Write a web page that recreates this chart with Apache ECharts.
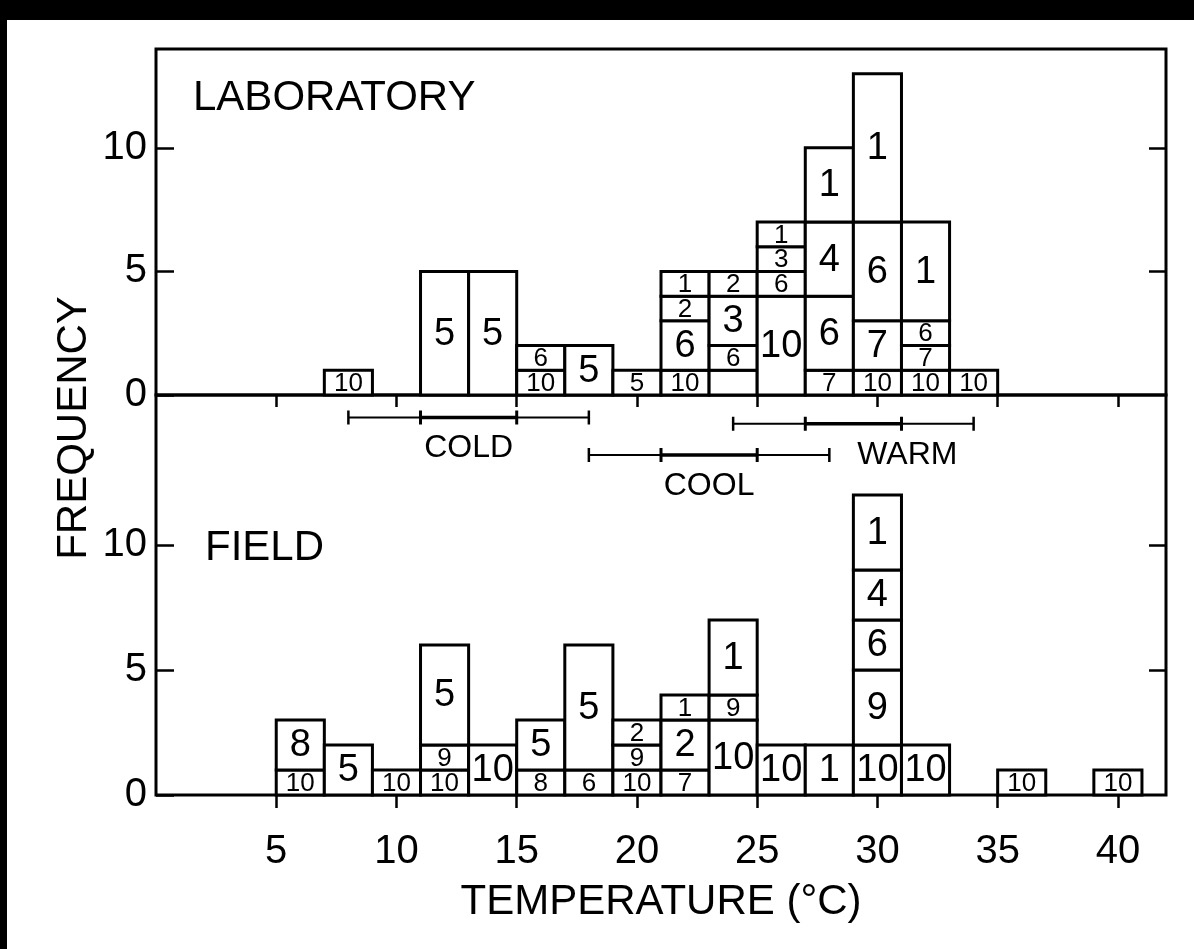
<!DOCTYPE html>
<html>
<head>
<meta charset="utf-8">
<script src="https://cdn.jsdelivr.net/npm/echarts@6/dist/echarts.min.js"></script>
<style>
  html, body { margin: 0; padding: 0; background: #fff; }
  #chart { width: 1194px; height: 949px; }
</style>
</head>
<body>
<div id="chart"></div>
<script>
// 2 degree bins, given by their lower edge; stacked groups listed bottom -> top
const binWidth = 2;

const labBinStart = [7, 11, 13, 15, 17, 19, 21, 23, 25, 27, 29, 31, 33];
const labCounts = [[1], [5], [5], [1, 1], [2], [1], [1, 2, 1, 1], [1, 1, 2, 1], [4, 1, 1, 1], [1, 3, 3, 3], [1, 2, 4, 6], [1, 1, 1, 4], [1]];
const labCodes = [['10'], ['5'], ['5'], ['10', '6'], ['5'], ['5'], ['10', '6', '2', '1'], ['', '6', '3', '2'], ['10', '6', '3', '1'], ['7', '6', '4', '1'], ['10', '7', '6', '1'], ['10', '7', '6', '1'], ['10']];

const fieldBinStart = [5, 7, 9, 11, 13, 15, 17, 19, 21, 23, 25, 27, 29, 31, 35, 39];
const fieldCounts = [[1, 2], [2], [1], [1, 1, 4], [2], [1, 2], [1, 5], [1, 1, 1], [1, 2, 1], [3, 1, 3], [2], [2], [2, 3, 2, 2, 3], [2], [1], [1]];
const fieldCodes = [['10', '8'], ['5'], ['10'], ['10', '9', '5'], ['10'], ['8', '5'], ['6', '5'], ['10', '9', '2'], ['7', '2', '1'], ['10', '9', '1'], ['10'], ['1'], ['10', '9', '6', '4', '1'], ['10'], ['10'], ['10']];

// temperature ranges drawn under the laboratory panel
const rangeNames = ['COLD', 'COOL', 'WARM'];
const rangeLow = [8, 18, 24];
const rangeInnerLow = [11, 21, 27];
const rangeInnerHigh = [15, 25, 31];
const rangeHigh = [18, 28, 34];

const tempTicks = [5, 10, 15, 20, 25, 30, 35, 40];
const freqTicks = [0, 5, 10];
const freqTicksRight = [5, 10];

const FONT = "'Liberation Sans', Arial, sans-serif";
const NUMFONT = "'Liberation Sans Narrow', 'Liberation Sans', Arial, sans-serif";

function buildSegments(starts, counts, codes) {
  const rows = [];
  starts.forEach((s, i) => {
    let base = 0;
    counts[i].forEach((c, j) => {
      rows.push([s, s + binWidth, base, base + c, codes[i][j], c]);
      base += c;
    });
  });
  return rows;
}

function segmentSeries(rows, xIdx, yIdx) {
  return {
    type: 'custom',
    xAxisIndex: xIdx,
    yAxisIndex: yIdx,
    encode: { x: [0, 1], y: [2, 3] },
    data: rows.map(r => [r[0], r[1], r[2], r[3]]),
    renderItem: (params, api) => {
      const r = rows[params.dataIndex];
      const p0 = api.coord([r[0], r[2]]);
      const p1 = api.coord([r[1], r[3]]);
      return {
        type: 'group',
        children: [
          {
            type: 'rect',
            shape: { x: p0[0], y: p1[1], width: p1[0] - p0[0], height: p0[1] - p1[1] },
            style: { fill: '#fff', stroke: '#000', lineWidth: 3 }
          },
          {
            type: 'text',
            style: {
              text: r[4],
              x: (p0[0] + p1[0]) / 2,
              y: (p0[1] + p1[1]) / 2 + 1,
              align: 'center',
              verticalAlign: 'middle',
              fontSize: r[5] === 1 ? 26 : 38,
              fontFamily: NUMFONT,
              fill: '#000'
            }
          }
        ]
      };
    }
  };
}

// vertical placement of each range line (field axis units) and label nudge in px
const rangeLevel = [15.1, 13.6, 14.85];
const rangeLabelDx = [0, 0, 54];

const rangeData = rangeNames.map((n, i) => [rangeLow[i], rangeInnerLow[i], rangeInnerHigh[i], rangeHigh[i], rangeLevel[i]]);

const chart = echarts.init(document.getElementById('chart'));

function yAxisPair(gridIndex, max) {
  return [
    {
      gridIndex: gridIndex, type: 'value', min: 0, max: max, position: 'left',
      splitLine: { show: false },
      axisLine: { show: false },
      axisTick: { inside: true, length: 18, lineStyle: { color: '#000', width: 2.5 }, customValues: freqTicks },
      axisLabel: { color: '#000', fontSize: 40, fontFamily: NUMFONT, margin: 9, customValues: freqTicks }
    },
    {
      gridIndex: gridIndex, type: 'value', min: 0, max: max, position: 'right',
      splitLine: { show: false },
      axisLine: { show: false },
      axisTick: { inside: true, length: 17, lineStyle: { color: '#000', width: 2.5 }, customValues: freqTicksRight },
      axisLabel: { show: false }
    }
  ];
}

const option = {
  animation: false,
  backgroundColor: '#fff',
  textStyle: { fontFamily: FONT, color: '#000' },
  grid: [
    { left: 156, right: 28, top: 49, height: 346, show: true, borderColor: '#000', borderWidth: 3, backgroundColor: 'transparent' },
    { left: 156, right: 28, top: 395, height: 400, show: true, borderColor: '#000', borderWidth: 3, backgroundColor: 'transparent' }
  ],
  xAxis: [
    {
      gridIndex: 0, type: 'value', min: 0, max: 42,
      splitLine: { show: false },
      axisLine: { show: false },
      axisTick: { length: 12, lineStyle: { color: '#000', width: 2.5 }, customValues: tempTicks },
      axisLabel: { show: false }
    },
    {
      gridIndex: 1, type: 'value', min: 0, max: 42,
      splitLine: { show: false },
      axisLine: { show: false },
      axisTick: { length: 13, lineStyle: { color: '#000', width: 2.5 }, customValues: tempTicks },
      axisLabel: { color: '#000', fontSize: 40, fontFamily: NUMFONT, margin: 37, customValues: tempTicks },
      name: 'TEMPERATURE (°C)',
      nameLocation: 'middle',
      nameGap: 86,
      nameTextStyle: { color: '#000', fontSize: 42, fontFamily: FONT }
    }
  ],
  yAxis: yAxisPair(0, 14).concat(yAxisPair(1, 16)),
  graphic: [
    { type: 'rect', left: 0, top: 0, shape: { width: 1194, height: 20 }, style: { fill: '#000' } },
    { type: 'rect', left: 0, top: 0, shape: { width: 7, height: 949 }, style: { fill: '#000' } },
    { type: 'text', x: 193, y: 98, style: { text: 'LABORATORY', fontSize: 42, fontFamily: FONT, fill: '#000', verticalAlign: 'middle' } },
    { type: 'text', x: 205, y: 548, style: { text: 'FIELD', fontSize: 42, fontFamily: FONT, fill: '#000', verticalAlign: 'middle' } },
    { type: 'text', x: 74, y: 428, rotation: Math.PI / 2, style: { text: 'FREQUENCY', fontSize: 42, fontFamily: FONT, fill: '#000', align: 'center', verticalAlign: 'middle' } }
  ],
  series: [
    segmentSeries(buildSegments(labBinStart, labCounts, labCodes), 0, 0),
    segmentSeries(buildSegments(fieldBinStart, fieldCounts, fieldCodes), 1, 2),
    {
      type: 'custom',
      xAxisIndex: 1,
      yAxisIndex: 2,
      encode: { x: [0, 3], y: 4 },
      data: rangeData,
      renderItem: (params, api) => {
        const i = params.dataIndex;
        const lv = api.value(4);
        const a = api.coord([api.value(0), lv]);
        const b = api.coord([api.value(1), lv]);
        const c = api.coord([api.value(2), lv]);
        const d = api.coord([api.value(3), lv]);
        const y = a[1];
        const ln = (x1, y1, x2, y2, w) => ({
          type: 'line',
          shape: { x1: x1, y1: y1, x2: x2, y2: y2 },
          style: { stroke: '#000', lineWidth: w }
        });
        return {
          type: 'group',
          children: [
            ln(a[0], y, b[0], y, 2),
            ln(b[0], y, c[0], y, 3.5),
            ln(c[0], y, d[0], y, 2),
            ln(a[0], y - 7, a[0], y + 7, 2.5),
            ln(b[0], y - 7, b[0], y + 7, 3),
            ln(c[0], y - 7, c[0], y + 7, 3),
            ln(d[0], y - 7, d[0], y + 7, 2.5),
            {
              type: 'text',
              style: {
                text: rangeNames[i],
                x: (b[0] + c[0]) / 2 + rangeLabelDx[i],
                y: y + 31,
                align: 'center',
                verticalAlign: 'middle',
                fontSize: 32,
                fontFamily: FONT,
                fill: '#000'
              }
            }
          ]
        };
      }
    }
  ]
};

chart.setOption(option);
</script>
</body>
</html>
